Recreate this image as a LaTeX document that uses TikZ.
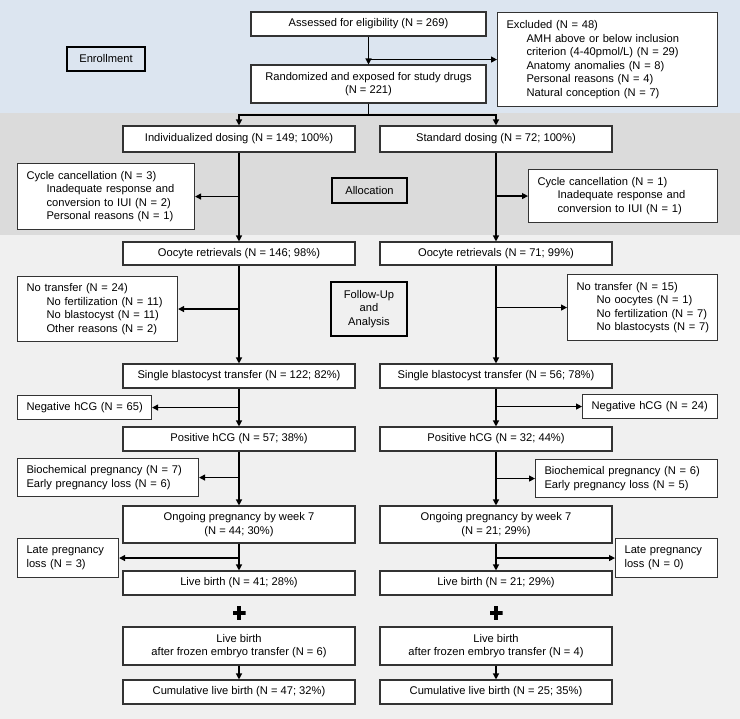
\documentclass[tikz,border=0pt]{standalone}
\usepackage{fontspec}
\setmainfont{Liberation Sans}
\usetikzlibrary{calc,positioning}
\usetikzlibrary{arrows.meta}
\newcommand{\indnt}{\hspace*{20pt}}
\definecolor{enrollbg}{HTML}{DCE5F0}
\definecolor{allocbg}{HTML}{DBDBDB}
\definecolor{followbg}{HTML}{F0F0F0}
\definecolor{boxline}{HTML}{333333}

\begin{document}
\begin{tikzpicture}%
  [x=1pt, y=-1pt, text=black, node font=\fontsize{11.15}{13.6}\selectfont,
   box/.style={rectangle, draw=boxline, line width=1.1pt, fill=white, inner sep=0pt},
   mainbox/.style={box, minimum width=232pt, align=center},
   sidebox/.style={box, anchor=north west, align=left, inner xsep=9pt,
       execute at begin node={\rightskip=0pt plus 1fil minus 20pt}},
   stagebox/.style={rectangle, draw=black, line width=2.4pt, align=center, inner sep=0pt},
   arr/.style={-{Triangle[length=6pt,width=6pt]}, line width=1.3pt},
   plusmark/.style={minimum size=13pt, inner sep=0pt, path picture={
       \fill[black] ($(path picture bounding box.center)+(-6.5,-2.3)$) rectangle ++(13,4.6);
       \fill[black] ($(path picture bounding box.center)+(-2.3,-6.5)$) rectangle ++(4.6,13);}}]

  \useasboundingbox (0,0) rectangle (740,719);
  \fill[enrollbg] (0,0) rectangle (740,113);
  \fill[allocbg] (0,113) rectangle (740,235);
  \fill[followbg] (0,235) rectangle (740,719);

  \node (enroll) at (106,59) [stagebox, minimum width=78pt, minimum height=24pt] {Enrollment};
  \node (alloc) at (369.5,190.5) [stagebox, minimum width=75pt, minimum height=25pt] {Allocation};
  \node (follow) at (369,309) [stagebox, minimum width=76pt, minimum height=54pt]
        {Follow-Up\\and\\Analysis};

  \node (assessed) at (368.5,24) [box, minimum width=235pt, minimum height=24pt]
        {Assessed for eligibility (N = 269)};
  \node (rand) at (368.5,84) [box, minimum width=235pt, minimum height=38pt, align=center]
        {Randomized and exposed for study drugs\\(N = 221)};
  \node (excl) at (497,12) [sidebox, text width=202pt, minimum height=94pt]
        {Excluded (N = 48)\\
         \indnt AMH above or below inclusion\\
         \indnt criterion (4-40pmol/L) (N = 29)\\
         \indnt Anatomy anomalies (N = 8)\\
         \indnt Personal reasons (N = 4)\\
         \indnt Natural conception (N = 7)};

  % individualized dosing arm
  \node (indiv) at (239,139) [mainbox, minimum height=26pt] {Individualized dosing (N = 149; 100\%)};
  \node (oocL) at (239,253.5) [mainbox, minimum height=23pt] {Oocyte retrievals (N = 146; 98\%)};
  \node (sbtL) at (239,376) [mainbox, minimum height=24pt] {Single blastocyst transfer (N = 122; 82\%)};
  \node (poshL) at (239,439) [mainbox, minimum height=24pt] {Positive hCG (N = 57; 38\%)};
  \node (ongL) at (239,524.5) [mainbox, minimum height=37pt] {Ongoing pregnancy by week 7\\(N = 44; 30\%)};
  \node (liveL) at (239,583) [mainbox, minimum height=24pt] {Live birth (N = 41; 28\%)};
  \node (plusL) at (239,613) [plusmark] {};
  \node (fetL) at (239,646) [mainbox, minimum height=38pt] {Live birth\\after frozen embryo transfer (N = 6)};
  \node (cumL) at (239,692) [mainbox, minimum height=24pt] {Cumulative live birth (N = 47; 32\%)};

  \node (cancL) at (17,163) [sidebox, text width=159pt, minimum height=66pt]
        {Cycle cancellation (N = 3)\\
         \indnt Inadequate response and\\
         \indnt conversion to IUI (N = 2)\\
         \indnt Personal reasons (N = 1)};
  \node (notrL) at (17,276) [sidebox, text width=142pt, minimum height=65pt]
        {No transfer (N = 24)\\
         \indnt No fertilization (N = 11)\\
         \indnt No blastocyst (N = 11)\\
         \indnt Other reasons (N = 2)};
  \node (negL) at (17,395) [sidebox, text width=116pt, minimum height=24pt] {Negative hCG (N = 65)};
  \node (bioL) at (17,458) [sidebox, text width=163pt, minimum height=38pt]
        {Biochemical pregnancy (N = 7)\\Early pregnancy loss (N = 6)};
  \node (lateL) at (17,538) [sidebox, text width=83pt, minimum height=39pt]
        {Late pregnancy\\loss (N = 3)};

  % standard dosing arm
  \node (stdd) at (496,139) [mainbox, minimum height=26pt] {Standard dosing (N = 72; 100\%)};
  \node (oocR) at (496,253.5) [mainbox, minimum height=23pt] {Oocyte retrievals (N = 71; 99\%)};
  \node (sbtR) at (496,376) [mainbox, minimum height=24pt] {Single blastocyst transfer (N = 56; 78\%)};
  \node (poshR) at (496,439) [mainbox, minimum height=24pt] {Positive hCG (N = 32; 44\%)};
  \node (ongR) at (496,524.5) [mainbox, minimum height=37pt] {Ongoing pregnancy by week 7\\(N = 21; 29\%)};
  \node (liveR) at (496,583) [mainbox, minimum height=24pt] {Live birth (N = 21; 29\%)};
  \node (plusR) at (496,613) [plusmark] {};
  \node (fetR) at (496,646) [mainbox, minimum height=38pt] {Live birth\\after frozen embryo transfer (N = 4)};
  \node (cumR) at (496,692) [mainbox, minimum height=24pt] {Cumulative live birth (N = 25; 35\%)};

  \node (cancR) at (528,169) [sidebox, text width=171pt, minimum height=53pt]
        {Cycle cancellation (N = 1)\\
         \indnt Inadequate response and\\
         \indnt conversion to IUI (N = 1)};
  \node (notrR) at (567,274) [sidebox, text width=132pt, minimum height=66pt]
        {No transfer (N = 15)\\
         \indnt No oocytes (N = 1)\\
         \indnt No fertilization (N = 7)\\
         \indnt No blastocysts (N = 7)};
  \node (negR) at (582,394) [sidebox, text width=117pt, minimum height=24pt] {Negative hCG (N = 24)};
  \node (bioR) at (535,459) [sidebox, text width=164pt, minimum height=38pt]
        {Biochemical pregnancy (N = 6)\\Early pregnancy loss (N = 5)};
  \node (lateR) at (615,538) [sidebox, text width=84pt, minimum height=39pt]
        {Late pregnancy\\loss (N = 0)};

  % connectors
  \coordinate (split) at (368.5,115);
  \draw[arr] (assessed) -- (rand);
  \draw[arr] (assessed |- excl) -- (excl);
  \draw[line width=1.3pt] (rand) -- (split);
  \draw[arr] (split) -| (indiv);
  \draw[arr] (split) -| (stdd);

  \draw[arr] (indiv) -- (oocL);
  \draw[arr] (oocL) -- (sbtL);
  \draw[arr] (sbtL) -- (poshL);
  \draw[arr] (poshL) -- (ongL);
  \draw[arr] (ongL) -- (liveL);
  \draw[arr] (fetL) -- (cumL);
  \draw[arr] (indiv |- cancL) -- (cancL);
  \draw[arr] (oocL |- notrL) -- (notrL);
  \draw[arr] (sbtL |- negL) -- (negL);
  \draw[arr] (poshL |- bioL) -- (bioL);
  \draw[arr] (ongL |- lateL) -- (lateL);

  \draw[arr] (stdd) -- (oocR);
  \draw[arr] (oocR) -- (sbtR);
  \draw[arr] (sbtR) -- (poshR);
  \draw[arr] (poshR) -- (ongR);
  \draw[arr] (ongR) -- (liveR);
  \draw[arr] (fetR) -- (cumR);
  \draw[arr] (stdd |- cancR) -- (cancR);
  \draw[arr] (oocR |- notrR) -- (notrR);
  \draw[arr] (sbtR |- negR) -- (negR);
  \draw[arr] (poshR |- bioR) -- (bioR);
  \draw[arr] (ongR |- lateR) -- (lateR);

\end{tikzpicture}
\end{document}
